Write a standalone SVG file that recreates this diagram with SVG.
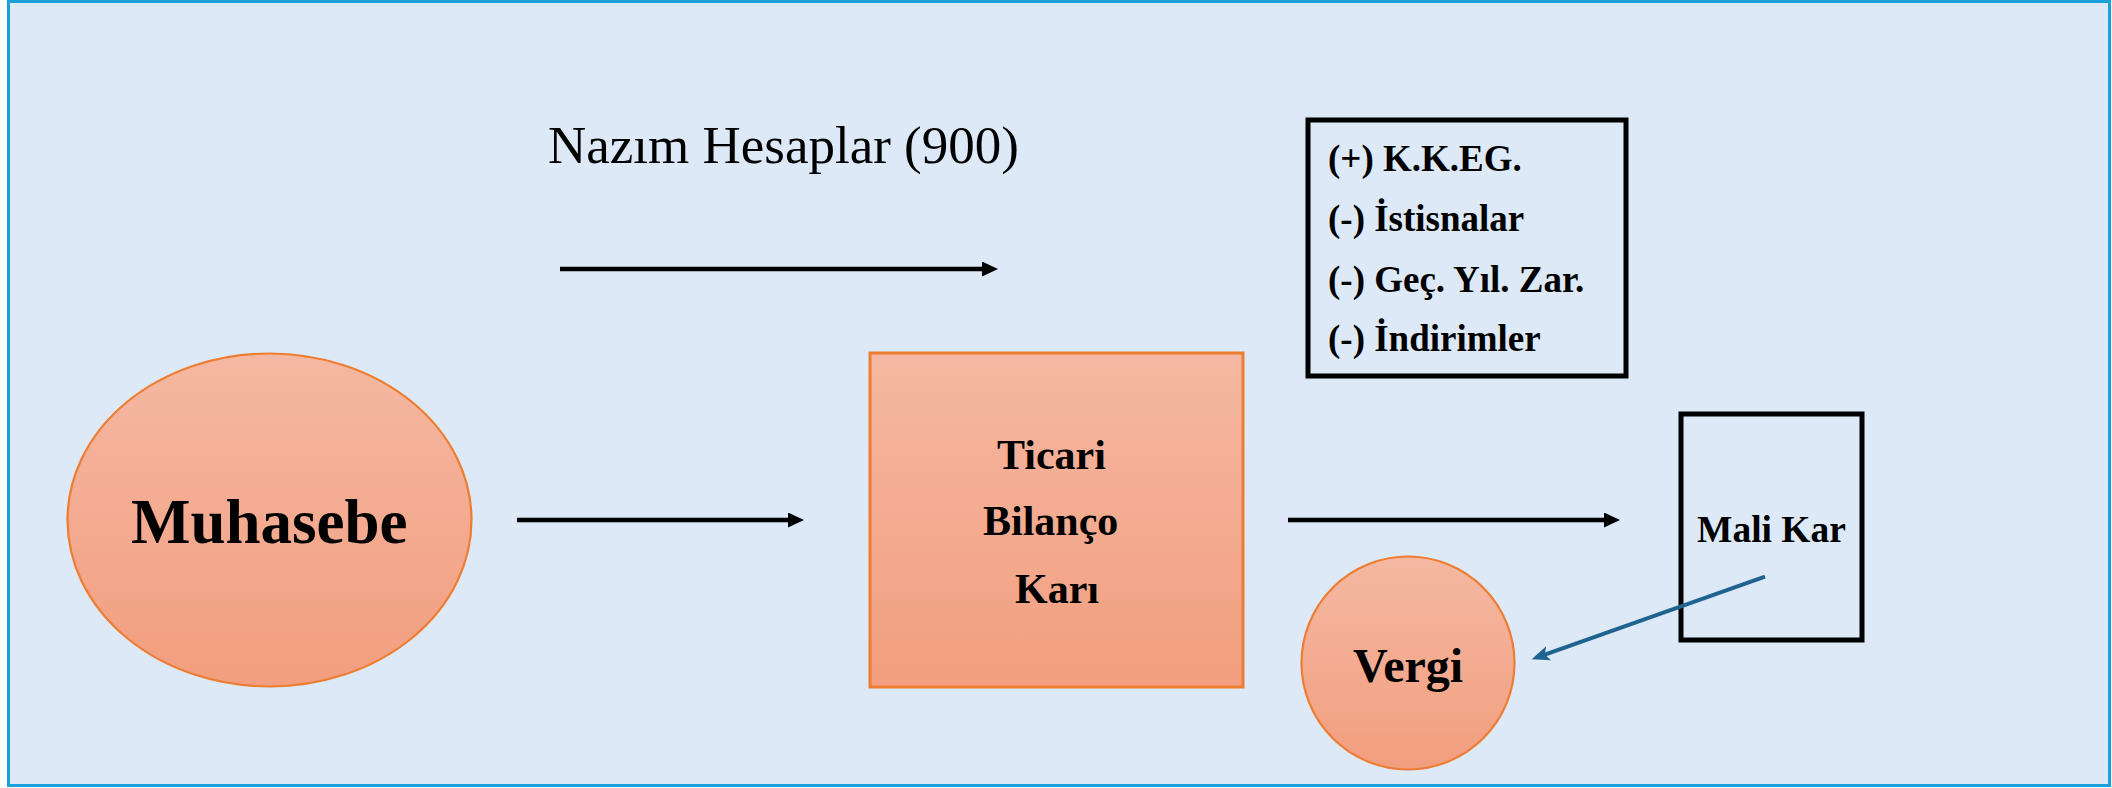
<svg xmlns="http://www.w3.org/2000/svg" width="2112" height="788" viewBox="0 0 2112 788">
  <style>
    .bg { fill: #dde9f6; stroke: #1ba1d9; stroke-width: 3; }
    .shape { fill: url(#peach); stroke: #ed7d31; }
    .frame { fill: none; stroke: #000; stroke-width: 5; }
    .bold { font-family: "Liberation Serif", "Times New Roman", serif; font-weight: bold; fill: #000; }
    .plain { font-family: "Liberation Serif", "Times New Roman", serif; fill: #000; }
    .flow { stroke: #000; stroke-width: 4.5; fill: none; }
    .tax { stroke: #1f6391; stroke-width: 4; fill: none; }
  </style>
  <defs>
    <linearGradient id="peach" x1="0" y1="0" x2="0" y2="1">
      <stop offset="0" stop-color="#f5b8a2"/>
      <stop offset="1" stop-color="#f29e7f"/>
    </linearGradient>
    <marker id="headBlack" markerUnits="userSpaceOnUse" markerWidth="17" markerHeight="16" refX="2" refY="7.5" orient="auto">
      <path d="M0,0 L16,7.5 L0,15 z" fill="#000"/>
    </marker>
    <marker id="headBlue" markerUnits="userSpaceOnUse" markerWidth="19" markerHeight="16" refX="10" refY="7.5" orient="auto">
      <path d="M0,0 L18,7.5 L0,15 L4,7.5 z" fill="#1f6391"/>
    </marker>
  </defs>

  <!-- panel -->
  <rect class="bg" x="8.5" y="1.5" width="2101" height="784"/>

  <!-- caption above the top flow -->
  <text class="plain" x="548" y="163" font-size="53">Nazım Hesaplar (900)</text>

  <g id="muhasebe">
    <ellipse class="shape" cx="269.5" cy="520" rx="202" ry="166.5" stroke-width="2.2"/>
    <text class="bold" x="131" y="543" font-size="63">Muhasebe</text>
  </g>

  <g id="ticari-bilanco-kari">
    <rect class="shape" x="870" y="353" width="373" height="334" stroke-width="3"/>
    <text class="bold" font-size="42">
      <tspan x="997" y="469">Ticari</tspan>
      <tspan x="983" y="535">Bilanço</tspan>
      <tspan x="1015" y="603">Karı</tspan>
    </text>
  </g>

  <g id="duzeltmeler">
    <rect class="frame" x="1308" y="120" width="318" height="256"/>
    <text class="bold" font-size="37">
      <tspan x="1328" y="171">(+) K.K.EG.</tspan>
      <tspan x="1328" y="231">(-) İstisnalar</tspan>
      <tspan x="1328" y="292">(-) Geç. Yıl. Zar.</tspan>
      <tspan x="1328" y="351">(-) İndirimler</tspan>
    </text>
  </g>

  <g id="mali-kar">
    <rect class="frame" x="1681" y="414" width="181" height="226"/>
    <text class="bold" x="1697" y="542" font-size="37.5">Mali Kar</text>
  </g>

  <g id="vergi">
    <circle class="shape" cx="1408" cy="663" r="106.5" stroke-width="2.2"/>
    <text class="bold" x="1353" y="682" font-size="48">Vergi</text>
  </g>

  <g id="connectors">
    <line class="flow" x1="560" y1="269" x2="984" y2="269" marker-end="url(#headBlack)"/>
    <line class="flow" x1="517" y1="520" x2="790" y2="520" marker-end="url(#headBlack)"/>
    <line class="flow" x1="1288" y1="520" x2="1606" y2="520" marker-end="url(#headBlack)"/>
    <line class="tax" x1="1765" y1="576.7" x2="1539.2" y2="656.6" marker-end="url(#headBlue)"/>
  </g>
</svg>
